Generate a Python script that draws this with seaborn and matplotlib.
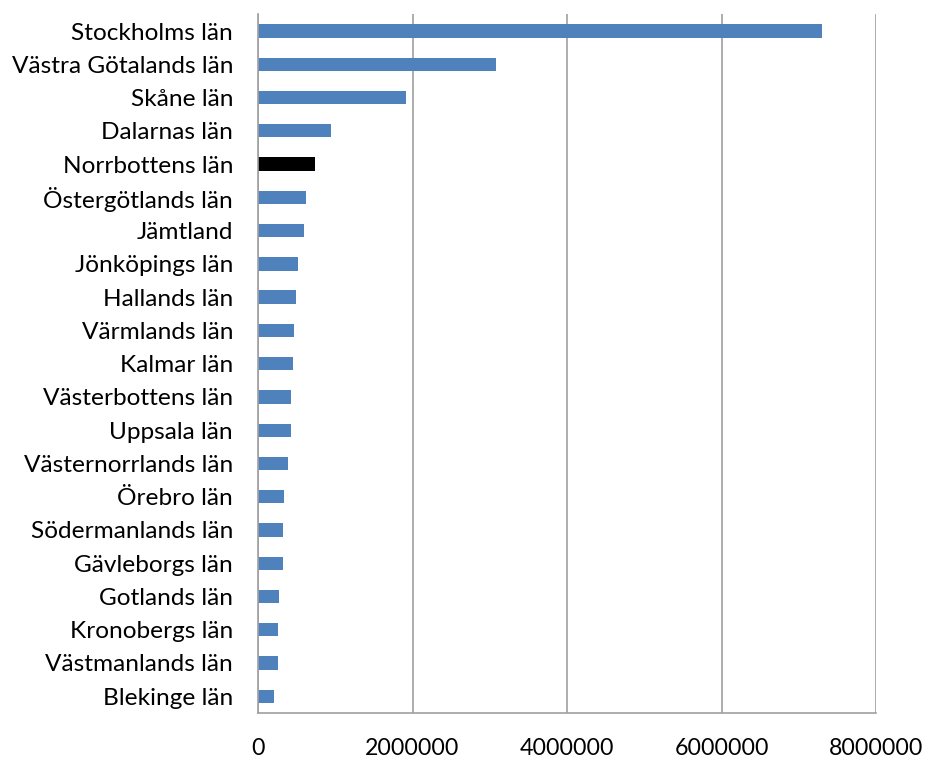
import matplotlib
matplotlib.use("Agg")
import matplotlib.pyplot as plt
import seaborn as sns
import pandas as pd
import numpy as np

counties = [
    "Stockholms län", "Västra Götalands län", "Skåne län", "Dalarnas län",
    "Norrbottens län", "Östergötlands län", "Jämtland", "Jönköpings län",
    "Hallands län", "Värmlands län", "Kalmar län", "Västerbottens län",
    "Uppsala län", "Västernorrlands län", "Örebro län", "Södermanlands län",
    "Gävleborgs län", "Gotlands län", "Kronobergs län", "Västmanlands län",
    "Blekinge län",
]
values = [
    7300000, 3077000, 1916000, 949000,
    742000, 625000, 600000, 522000,
    488000, 470000, 457000, 423000,
    423000, 392000, 341000, 328000,
    328000, 276000, 259000, 259000,
    211000,
]
highlight = "Norrbottens län"
xticks = [0, 2000000, 4000000, 6000000, 8000000]
xtick_labels = ["0", "2000000", "4000000", "6000000", "8000000"]

df = pd.DataFrame({"county": counties, "value": values})
palette = {c: ("#000000" if c == highlight else "#4F81BD") for c in counties}

sns.set_style("white")
plt.rcParams["font.family"] = ["Lato", "DejaVu Sans"]

fig = plt.figure(figsize=(9.25, 7.6), dpi=100)
ax = fig.add_axes([0.279, 0.062, 0.668, 0.919])

sns.barplot(
    data=df,
    x="value",
    y="county",
    hue="county",
    palette=palette,
    orient="h",
    width=0.4,
    dodge=False,
    saturation=1,
    linewidth=0,
    legend=False,
    ax=ax,
)

ax.set_xlim(0, 8000000)
ax.set_ylim(len(counties) - 0.5, -0.5)
ax.set_xticks(xticks)
ax.set_xticklabels(xtick_labels)
ax.set_xlabel("")
ax.set_ylabel("")

ax.xaxis.grid(True, color="#A0A0A0", linewidth=1.2)
ax.set_axisbelow(True)

ax.set_yticks(np.arange(-0.5, len(counties), 1), minor=True)
ax.tick_params(axis="y", which="major", length=0, pad=18, labelsize=17.6,
               labelcolor="#000000")
ax.tick_params(axis="y", which="minor", length=6, color="#A0A0A0", width=1.2)
ax.tick_params(axis="x", which="major", length=8, color="#A0A0A0", width=1.2,
               pad=10, labelsize=16.7, labelcolor="#000000")

for side in ["top", "right"]:
    ax.spines[side].set_visible(False)
for side in ["left", "bottom"]:
    ax.spines[side].set_color("#A0A0A0")
    ax.spines[side].set_linewidth(1.2)

plt.savefig("out.png", dpi=100)
plt.close()
